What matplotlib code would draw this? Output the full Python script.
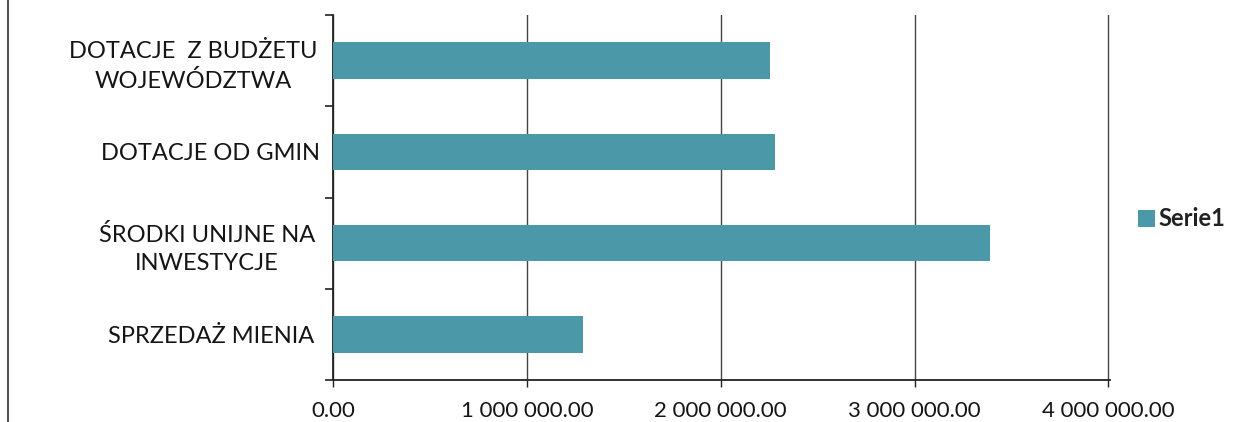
# Horizontal bar chart - sources of funding (scanned Excel chart)

import matplotlib
matplotlib.use("Agg")
import matplotlib.pyplot as plt
from matplotlib.ticker import FuncFormatter, FixedLocator
from matplotlib.lines import Line2D
from matplotlib.transforms import ScaledTranslation

# data, top to bottom
categories = ["DOTACJE  Z BUDŻETU\nWOJEWÓDZTWA",
              "DOTACJE OD GMIN",
              "ŚRODKI UNIJNE NA\nINWESTYCJE",
              "SPRZEDAŻ MIENIA"]
values = [2255000, 2280000, 3390000, 1290000]
series_name = "Serie1"
xticks = [0, 1000000, 2000000, 3000000, 4000000]

bar_color = "#4b98a8"
plt.rcParams["font.family"] = ["Lato", "DejaVu Sans"]

fig = plt.figure(figsize=(12.37, 4.22), dpi=100)
ax = fig.add_axes([333/1237, 1-380/422, (1110-333)/1237, (380-15)/422])

pos = list(range(len(categories)))
ax.barh(pos, values, height=0.4, color=bar_color, label=series_name, zorder=3)
ax.set_ylim(len(categories)-0.5, -0.5)
ax.set_xlim(0, xticks[-1] * 1.002)

ax.set_xticks(xticks)
ax.xaxis.set_major_formatter(FuncFormatter(lambda v, p: f"{v:,.2f}".replace(",", " ")))
ax.grid(axis="x", color="#444444", linewidth=1.0, zorder=0)

# category boundaries as major ticks, labels on minor ticks
ax.yaxis.set_major_locator(FixedLocator([i - 0.5 for i in range(len(categories)+1)]))
ax.yaxis.set_major_formatter(FuncFormatter(lambda v, p: ""))
ax.set_yticks(pos, minor=True)
ax.set_yticklabels(categories, minor=True, fontsize=17, ha="center",
                   linespacing=1.45, color="#151515")
ax.tick_params(axis="y", which="minor", length=0, pad=88)
ax.tick_params(axis="y", which="major", length=6, width=1.2, color="#222222")
ax.tick_params(axis="x", length=5, width=1.0, pad=10, labelsize=16, color="#222222",
               labelcolor="#151515")

# Excel centres the wrapped labels a bit further left
for lbl, dx in zip(ax.get_yticklabels(minor=True), [-18, 0, -4, 0]):
    lbl.set_transform(lbl.get_transform() + ScaledTranslation(dx/100, 0, fig.dpi_scale_trans))

for s in ["top", "right"]:
    ax.spines[s].set_visible(False)
ax.spines["left"].set_linewidth(1.3)
ax.spines["bottom"].set_linewidth(1.3)
ax.spines["left"].set_color("#222222")
ax.spines["bottom"].set_color("#222222")

leg = fig.legend(loc="center left", bbox_to_anchor=(1129/1237, 1-219/422),
                 frameon=False, fontsize=17, handlelength=0.7, handleheight=0.7,
                 handletextpad=0.15, borderaxespad=0)
for t in leg.get_texts():
    t.set_fontweight("bold")
    t.set_color("#222222")

# chart frame border on the left
fig.add_artist(Line2D([8/1237, 8/1237], [0, 1], transform=fig.transFigure,
                      color="#555555", linewidth=1.5))

fig.savefig("out.png", dpi=100)
